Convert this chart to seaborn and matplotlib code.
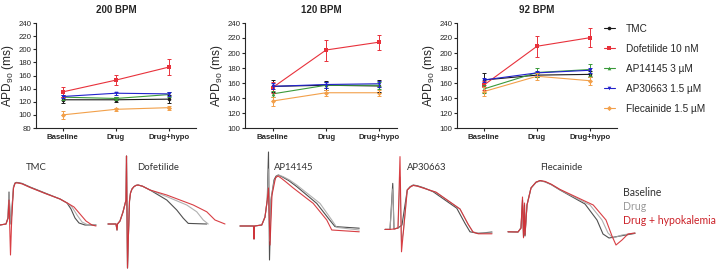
import pandas as pd
import matplotlib.pyplot as plt
import seaborn as sns

# APD90 summary (ms), rows follow drug order, columns follow conditions
conditions = ['Baseline', 'Drug', 'Drug+hypo']
drugs = ['TMC', 'Dofetilide 10 nM', 'AP14145 3 µM', 'AP30663 1.5 µM', 'Flecainide 1.5 µM']
rates = ['200 BPM', '120 BPM', '92 BPM']

apd_200 = [[123, 123, 124], [135, 153, 173], [127, 125, 131], [128, 133, 132], [100, 108.5, 111]]
sem_200 = [[5, 4, 6], [7, 8, 12], [4, 3, 4], [3, 2, 3], [6, 2, 3]]
apd_120 = [[155.5, 157, 156], [154, 204, 214.5], [145.5, 157, 157], [155.5, 158, 159], [136, 147, 147]]
sem_120 = [[8, 6, 8], [7, 14, 10], [4, 4, 5], [4, 4, 4], [6, 4, 4]]
apd_92 = [[164, 170.5, 171.5], [157, 209, 220.5], [152, 174, 178], [164, 173.5, 177], [148.5, 169, 163]]
sem_92 = [[9, 3, 4], [6, 14, 13], [5, 6, 8], [3, 3, 3], [6, 5, 5]]

# example action potential traces, time (ms) and membrane potential (mV)
tmc_base_t = [0, 24, 32, 36, 40, 44, 48, 54, 60, 66, 72, 88, 120, 180, 240, 268, 284, 300, 316, 340, 384]
tmc_base_v = [-80, -77.5, -62.5, 2.5, -52.5, -77.5, -37.5, 15, 25, 26.5, 26, 24, 15, 0, -15, -25, -40, -62.5, -75, -80, -80]
tmc_drug_t = [0, 24, 32, 36, 40, 44, 48, 54, 60, 66, 72, 88, 120, 180, 240, 268, 288, 308, 328, 352, 384]
tmc_drug_v = [-80, -77.5, -62.5, 0, -52.5, -77.5, -37.5, 15, 24, 25.5, 25, 23, 14, -1, -15, -25, -35, -55, -72.5, -80, -80]
tmc_hypo_t = [0, 24, 32, 36, 42, 46, 50, 54, 60, 66, 72, 88, 120, 180, 240, 272, 296, 320, 344, 368, 384]
tmc_hypo_v = [-80, -77.5, -62.5, -17.5, -155, -80, -30, 12, 24, 25.5, 25, 23, 14, -1, -15, -26, -35, -52.5, -70, -80, -82.5]

dof_base_t = [12, 44, 48, 50, 60, 72, 84, 86, 90, 94, 98, 102, 108, 116, 124, 132, 150, 180, 247, 287, 313, 333, 407]
dof_base_v = [-77.5, -77.5, -92.5, -77.5, -70, -47.5, -17.5, 92.5, -187.5, -100, -20, 0, 10, 16, 19, 20, 17, 7.5, -17.5, -42.5, -63, -76, -77.5]
dof_drug_t = [12, 44, 48, 50, 60, 72, 84, 86, 90, 94, 98, 102, 108, 116, 124, 132, 150, 180, 247, 327, 367, 393, 413]
dof_drug_v = [-77.5, -77.5, -92.5, -77.5, -70, -47.5, -17.5, 92.5, -187.5, -100, -20, 0, 10, 16, 19, 20, 17, 7.5, -9, -30, -47, -67.5, -77.5]
dof_hypo_t = [12, 44, 48, 50, 60, 72, 84, 86, 90, 94, 98, 102, 108, 116, 124, 132, 150, 180, 247, 353, 407, 440, 480]
dof_hypo_v = [-77.5, -77.5, -92.5, -77.5, -70, -47.5, -17.5, 92.5, -187.5, -100, -20, 0, 10, 16, 19, 20, 17, 7.5, -5, -30, -47, -67.5, -77.5]

ap14_base_t = [40, 94, 96, 98, 127, 140, 149, 154, 158, 164, 176, 184, 193, 210, 235, 267, 347, 393, 420, 517]
ap14_base_v = [-82.5, -82.5, -115, -82.5, -80, -60, -17.5, 102.5, -167.5, -17.5, 32.5, 42, 45, 40, 31, 16, -26, -63, -84, -88]
ap14_drug_t = [40, 94, 96, 98, 127, 140, 149, 155, 159, 165, 177, 186, 195, 212, 237, 267, 360, 407, 427, 517]
ap14_drug_v = [-82.5, -82.5, -115, -82.5, -80, -60, -17.5, 60, -120, -10, 30, 41, 45, 41, 33, 20, -26, -67.5, -86, -92.5]
ap14_hypo_t = [40, 94, 96, 98, 127, 140, 149, 154, 160, 168, 182, 192, 205, 225, 253, 333, 387, 407, 517]
ap14_hypo_v = [-82.5, -82.5, -115, -82.5, -80, -60, -17.5, 12.5, -130, -5, 38, 42.5, 37, 27, 12.5, -26, -67.5, -92.5, -97]

ap30_base_t = [20, 40, 51, 56, 72, 88, 100, 109, 121, 133, 150, 175, 213, 307, 340, 360, 393, 448]
ap30_base_v = [-91, -91, 24, -90, -87.5, -80, -30, 7.5, 16, 20, 18, 13, 3, -38, -76, -97, -101, -97.5]
ap30_drug_t = [20, 40, 51, 56, 72, 80, 86, 93, 109, 121, 133, 150, 175, 224, 320, 352, 372, 393, 448]
ap30_drug_v = [-91, -91, 10, -90, -87.5, 40, -120, -100, 7.5, 15, 19, 17, 12, 2, -40, -77.5, -97.5, -100, -100]
ap30_hypo_t = [20, 40, 56, 72, 80, 86, 93, 109, 121, 133, 150, 175, 224, 320, 352, 372, 393, 448]
ap30_hypo_v = [-91, -91, -90, -87.5, 91, -147, -100, 7.5, 15, 19, 17, 12, 2, -40, -77.5, -97.5, -102, -102]

flec_base_t = [12, 52, 64, 70, 74, 78, 80, 88, 104, 124, 140, 160, 185, 220, 320, 368, 392, 416, 447, 520]
flec_base_v = [-97, -97.5, -87.5, -17.5, -109, -30, -107.5, -30, 12.5, 27, 31, 28, 21, 7.5, -27.5, -67.5, -102.5, -112.5, -109, -101]
flec_drug_t = [12, 52, 64, 70, 74, 78, 80, 88, 104, 124, 140, 160, 185, 220, 340, 388, 412, 432, 468, 520]
flec_drug_v = [-97, -97.5, -87.5, -25, -105, -35, -100, -30, 12.5, 26, 30, 28, 21, 8, -30, -67.5, -100, -112.5, -105, -100]
flec_hypo_t = [12, 52, 64, 70, 74, 78, 80, 88, 104, 124, 140, 160, 185, 220, 353, 404, 428, 444, 468, 492, 520]
flec_hypo_v = [-97, -97.5, -87.5, -10, -112, -25, -105, -30, 12.5, 27, 31, 29, 22, 9, -30, -67.5, -107.5, -130, -117.5, -102.5, -100]

trace_names = ['TMC', 'Dofetilide', 'AP14145', 'AP30663', 'Flecainide']
trace_labels = ['Baseline', 'Drug', 'Drug + hypokalemia']

sns.set_style('ticks')
plt.rcParams['font.family'] = ['Liberation Sans', 'DejaVu Sans']
plt.rcParams['mathtext.fontset'] = 'custom'
plt.rcParams['mathtext.rm'] = 'Liberation Sans'
plt.rcParams['mathtext.it'] = 'Liberation Sans'

W, H = 717, 276
fig = plt.figure(figsize=(W / 100, H / 100), dpi=100)

palette = ['#1a1a1a', '#e8313b', '#3a9a3a', '#2222cc', '#f2a04a']
markers = ['o', 's', '^', 'v', 'D']

def px_axes(x0, x1, ytop, ybot):
    return fig.add_axes([x0 / W, 1 - ybot / H, (x1 - x0) / W, (ybot - ytop) / H])

def plot_apd(ax, means, sems, title, ymin, xlo, xhi):
    rows = []
    for d, name in enumerate(drugs):
        for c in range(3):
            rows.append({'cond': c, 'apd': means[d][c], 'sem': sems[d][c], 'drug': name})
    df = pd.DataFrame(rows)
    sns.lineplot(data=df, x='cond', y='apd', hue='drug', style='drug', palette=palette,
                 markers=markers, dashes=False, markersize=2.6, markeredgewidth=0,
                 linewidth=0.8, ax=ax, legend=(title == '92 BPM'))
    for d, name in enumerate(drugs):
        sub = df[df['drug'] == name]
        ax.errorbar(sub['cond'], sub['apd'], yerr=sub['sem'], fmt='none', ecolor=palette[d],
                    elinewidth=0.7, capsize=1.5, capthick=0.7)
    ax.set_xlim(xlo, xhi)
    ax.set_ylim(ymin, 240)
    ax.set_yticks(range(ymin, 241, 20))
    ax.set_xticks([0, 1, 2])
    ax.set_xticklabels(conditions, fontsize=5.6, fontweight='bold')
    ax.tick_params(axis='y', labelsize=5.6, length=2.5, width=0.8, pad=1)
    ax.tick_params(axis='x', length=2.5, width=0.8, pad=2)
    ax.set_xlabel('')
    ax.set_ylabel('APD$_{90}$ (ms)', fontsize=8.6, labelpad=1.5)
    ax.set_title(title, fontsize=7, fontweight='bold', pad=7)
    for s in ['left', 'bottom']:
        ax.spines[s].set_linewidth(0.8)
    sns.despine(ax=ax)

ax1 = px_axes(36, 196, 23, 128)
plot_apd(ax1, apd_200, sem_200, '200 BPM', 80, -0.5, 2.5)
ax2 = px_axes(245, 397, 23, 128)
plot_apd(ax2, apd_120, sem_120, '120 BPM', 100, -0.52, 2.33)
ax3 = px_axes(457, 617, 23, 128)
plot_apd(ax3, apd_92, sem_92, '92 BPM', 100, -0.5, 2.5)

handles, labels = ax3.get_legend_handles_labels()
ax3.legend(handles, labels, loc='upper left', bbox_to_anchor=(604 / W, 1 - 23.5 / H),
           bbox_transform=fig.transFigure, frameon=False, fontsize=7.2, borderpad=0,
           borderaxespad=0, labelspacing=1.0, handlelength=1.05, handletextpad=1.15)

# action potential traces
trace_colors = ['#3c3c3c', '#a8a8a8', '#d42a30']
traces = [
    [(tmc_base_t, tmc_base_v), (tmc_drug_t, tmc_drug_v), (tmc_hypo_t, tmc_hypo_v)],
    [(dof_base_t, dof_base_v), (dof_drug_t, dof_drug_v), (dof_hypo_t, dof_hypo_v)],
    [(ap14_base_t, ap14_base_v), (ap14_drug_t, ap14_drug_v), (ap14_hypo_t, ap14_hypo_v)],
    [(ap30_base_t, ap30_base_v), (ap30_drug_t, ap30_drug_v), (ap30_hypo_t, ap30_hypo_v)],
    [(flec_base_t, flec_base_v), (flec_drug_t, flec_drug_v), (flec_hypo_t, flec_hypo_v)],
]
panel_x = [(0, 100), (105, 230), (230, 362), (380, 495), (505, 640)]
label_x = [26, 137, 274, 407, 540]

for i, name in enumerate(trace_names):
    x0, x1 = panel_x[i]
    ax = px_axes(x0, x1, 140, 276)
    ax.patch.set_alpha(0)
    for (t, v), col in zip(traces[i], trace_colors):
        sns.lineplot(x=t, y=v, color=col, linewidth=0.8, alpha=0.9, sort=False, ax=ax)
    ax.set_xlim(0, (x1 - x0) * 4)
    ax.set_ylim(-207.5, 132.5)
    ax.axis('off')
    fig.text(label_x[i] / W, 1 - 167 / H, name, fontsize=6.8, family=['Lato', 'DejaVu Sans'],
             color='#333333', va='center', ha='left')

for j, (lab, col) in enumerate(zip(trace_labels, ['#333333', '#9a9a9a', '#cc2229'])):
    fig.text(623 / W, 1 - (193 + 13.5 * j) / H, lab, fontsize=7.6, family=['Lato', 'DejaVu Sans'],
             color=col, va='center', ha='left')

fig.savefig('out.png', dpi=100)
